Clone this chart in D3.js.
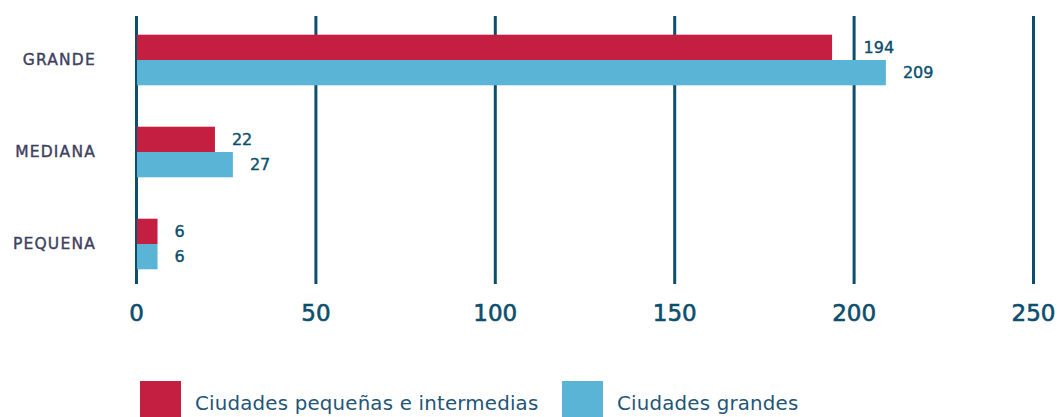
<!DOCTYPE html>
<html>
<head>
<meta charset="utf-8">
<script src="https://cdn.jsdelivr.net/npm/d3@7"></script>
<style>
  body { margin: 0; background: #fff; }
  svg text { font-family: "DejaVu Sans", sans-serif; }
</style>
</head>
<body>
<div id="chart"></div>
<script>
// data
var categories = ["GRANDE", "MEDIANA", "PEQUENA"];
var seriesNames = ["Ciudades pequeñas e intermedias", "Ciudades grandes"];
var smallCities = [194, 22, 6];
var bigCities = [209, 27, 6];
var xTicks = [0, 50, 100, 150, 200, 250];

var colors = ["#c41e41", "#5ab4d6"];
var dark = "#0c4e6d";

var svgWidth = 1060, svgHeight = 417;

var svg = d3.select("#chart").append("svg")
  .attr("width", svgWidth)
  .attr("height", svgHeight);

var rows = categories.map(function (c, i) {
  return { cat: c, values: [smallCities[i], bigCities[i]] };
});

// scales
var xScale = d3.scaleLinear().domain([0, 250]).range([136, 1033]);
var yScale = d3.scaleBand().domain(categories).range([14, 290])
  .paddingInner(0.45).paddingOuter(0.225);
var ySub = d3.scaleBand().domain([0, 1]).range([0, yScale.bandwidth()]);

// gridlines (drawn with the axis)
var gridTop = 16, gridBottom = 284;
var xAxis = d3.axisBottom(xScale).tickValues(xTicks).tickSize(gridBottom - gridTop).tickPadding(21);
var axisG = svg.append("g")
  .attr("transform", "translate(0," + gridTop + ")")
  .call(xAxis);
axisG.select(".domain").remove();
axisG.selectAll(".tick line").attr("stroke", dark).attr("stroke-width", 3);
axisG.selectAll(".tick text")
  .attr("fill", dark)
  .attr("stroke", dark)
  .attr("stroke-width", 0.6)
  .style("font-size", "23px")
  .attr("dy", "0.71em");

// bars
var groups = svg.selectAll(".row")
  .data(rows)
  .enter()
  .append("g")
  .attr("class", "row")
  .attr("transform", d => "translate(0," + yScale(d.cat) + ")");

groups.selectAll("rect")
  .data(d => d.values)
  .enter()
  .append("rect")
  .attr("x", xScale(0) + 1)
  .attr("y", (d, i) => ySub(i))
  .attr("width", d => xScale(d) - xScale(0) - 1)
  .attr("height", ySub.bandwidth())
  .attr("fill", (d, i) => colors[i]);

// value labels, pushed past a gridline if they would sit on it
groups.selectAll("text.val")
  .data(d => d.values)
  .enter()
  .append("text")
  .attr("class", "val")
  .attr("x", function (d) {
    var x = xScale(d) + 17;
    var w = String(d).length * 10;
    xTicks.forEach(function (t) {
      var gx = xScale(t);
      if (gx > x - 4 && gx < x + w + 2) x = gx + 10;
    });
    return x;
  })
  .attr("y", (d, i) => ySub(i) + ySub.bandwidth() / 2)
  .attr("dy", "0.35em")
  .attr("fill", dark)
  .attr("stroke", dark)
  .attr("stroke-width", 0.4)
  .style("font-size", "16px")
  .text(d => d);

// category labels
svg.selectAll("text.cat")
  .data(categories)
  .enter()
  .append("text")
  .attr("class", "cat")
  .attr("x", 96)
  .attr("y", d => yScale(d) + yScale.bandwidth() / 2)
  .attr("dy", "0.35em")
  .attr("text-anchor", "end")
  .attr("fill", "#3e4160")
  .attr("stroke", "#3e4160")
  .attr("stroke-width", 0.4)
  .style("font-size", "15.5px")
  .style("letter-spacing", "1.2px")
  .text(d => d);

// legend
var legendX = [140, 562];
var legend = svg.selectAll(".legend")
  .data(seriesNames)
  .enter()
  .append("g")
  .attr("class", "legend")
  .attr("transform", (d, i) => "translate(" + legendX[i] + ",381)");

legend.append("rect")
  .attr("width", 41)
  .attr("height", 40)
  .attr("fill", (d, i) => colors[i]);

legend.append("text")
  .attr("x", 55)
  .attr("y", 22)
  .attr("dy", "0.35em")
  .attr("fill", "#1f5677")
  .style("font-size", "19.8px")
  .style("letter-spacing", "0.2px")
  .text(d => d);
</script>
</body>
</html>
